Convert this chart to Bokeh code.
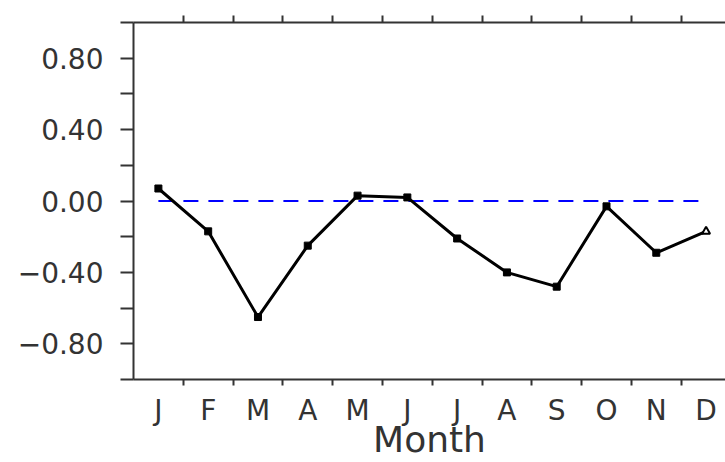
from bokeh.plotting import figure
from bokeh.models import LinearAxis, FixedTicker, Range1d
from bokeh.embed import file_html
from bokeh.resources import INLINE

# Monthly anomaly series
months = ["J", "F", "M", "A", "M", "J", "J", "A", "S", "O", "N", "D"]
month_x = list(range(1, 13))
values = [0.07, -0.17, -0.65, -0.25, 0.03, 0.02, -0.21, -0.40, -0.48, -0.03, -0.29, -0.17]

y_major = [-0.8, -0.4, 0.0, 0.4, 0.8]
y_minor = [-1.0, -0.6, -0.2, 0.2, 0.6, 1.0]
y_labels = ["\u22120.80", "\u22120.40", "0.00", "0.40", "0.80"]
baseline = 0.0
x_title = "Month"

FONT = "DejaVu Sans"
AXIS_COLOR = "#333333"
TEXT_COLOR = "#333333"

y_lo, y_hi = -1.0, 1.0
p = figure(width=725, height=462, output_backend="svg", toolbar_location=None,
           x_range=Range1d(0.5, 12.39), y_range=Range1d(y_lo, y_hi),
           x_axis_location=None, y_axis_location=None,
           min_border_left=133, min_border_right=0,
           min_border_top=22, min_border_bottom=83)
p.outline_line_color = None
p.grid.visible = False
p.background_fill_color = "white"
p.border_fill_color = "white"

# left axis: labelled ticks every 0.4, plain ticks in between
left = LinearAxis(ticker=FixedTicker(ticks=y_major, minor_ticks=y_minor),
                  major_label_overrides={v: s for v, s in zip(y_major, y_labels)})
left.axis_line_color = AXIS_COLOR
left.axis_line_width = 2
left.major_tick_line_color = AXIS_COLOR
left.major_tick_line_width = 2
left.minor_tick_line_color = AXIS_COLOR
left.minor_tick_line_width = 2
left.major_tick_out = 13
left.major_tick_in = 0
left.minor_tick_out = 13
left.minor_tick_in = 0
left.major_label_standoff = 17
left.major_label_text_font = FONT
left.major_label_text_font_size = "28px"
left.major_label_text_color = TEXT_COLOR
p.add_layout(left, "left")

# bottom axis: month letters at centres, tick marks between months
half_ticks = [m + 0.5 for m in month_x[:-1]]
bottom = LinearAxis(ticker=FixedTicker(ticks=month_x, minor_ticks=half_ticks),
                    major_label_overrides={m: s for m, s in zip(month_x, months)},
                    axis_label=x_title)
bottom.axis_line_color = AXIS_COLOR
bottom.axis_line_width = 2
bottom.major_tick_out = 0
bottom.major_tick_in = 0
bottom.minor_tick_line_color = AXIS_COLOR
bottom.minor_tick_line_width = 2
bottom.minor_tick_out = 6
bottom.minor_tick_in = 0
bottom.major_label_standoff = 8
bottom.major_label_text_font = FONT
bottom.major_label_text_font_size = "28px"
bottom.major_label_text_color = TEXT_COLOR
bottom.axis_label_standoff = -11
bottom.axis_label_text_font = FONT
bottom.axis_label_text_font_size = "36px"
bottom.axis_label_text_font_style = "normal"
bottom.axis_label_text_color = TEXT_COLOR
p.add_layout(bottom, "below")

# top axis: tick marks only
top = LinearAxis(ticker=FixedTicker(ticks=[], minor_ticks=half_ticks))
top.axis_line_color = AXIS_COLOR
top.axis_line_width = 2
top.minor_tick_line_color = AXIS_COLOR
top.minor_tick_line_width = 2
top.minor_tick_out = 7
top.minor_tick_in = 0
top.major_label_text_font_size = "0px"
p.add_layout(top, "above")

# zero reference line
p.line([month_x[0], month_x[-1]], [baseline, baseline], line_color="#0000ff",
       line_width=2, line_dash="15 10")

# series
p.line(month_x, values, line_color="black", line_width=3)
p.scatter(month_x[:-1], values[:-1], marker="square", size=7, color="black")
p.scatter(month_x[-1:], values[-1:], marker="triangle", size=8,
          line_color="black", fill_color="white", line_width=2)

open("out.html", "w").write(file_html(p, INLINE))
